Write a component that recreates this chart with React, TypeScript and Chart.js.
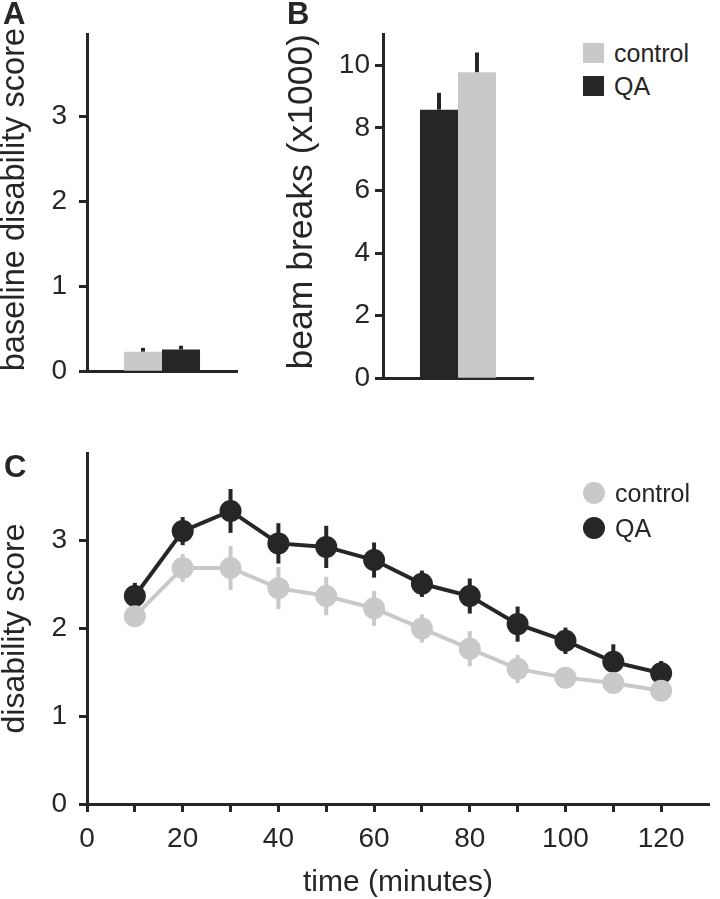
import React, { useEffect, useRef } from 'react';
import { Chart, registerables } from 'chart.js';

Chart.register(...registerables);

const DARK = '#262626';
const GRAY = '#c9c9c9';
const FONT = "'Liberation Sans', Arial, Helvetica, sans-serif";

// ---------- Panel A: baseline disability score ----------
const baselineCategories = [''];
const baselineControl = [0.23];
const baselineControlErr = [0.045];
const baselineQA = [0.255];
const baselineQAErr = [0.045];

// ---------- Panel B: beam breaks (x1000) ----------
const beamCategories = [''];
const beamQA = [8.58];
const beamQAErr = [0.54];
const beamControl = [9.78];
const beamControlErr = [0.63];

// ---------- Panel C: disability score over time ----------
const timeMinutes = [10, 20, 30, 40, 50, 60, 70, 80, 90, 100, 110, 120];
const controlScore = [2.14, 2.69, 2.69, 2.46, 2.37, 2.23, 2.0, 1.77, 1.54, 1.44, 1.38, 1.29];
const controlErr = [0.05, 0.16, 0.25, 0.24, 0.22, 0.2, 0.16, 0.2, 0.16, 0.1, 0.1, 0.08];
const qaScore = [2.37, 3.11, 3.34, 2.97, 2.93, 2.78, 2.51, 2.37, 2.05, 1.86, 1.62, 1.49];
const qaErr = [0.15, 0.16, 0.25, 0.23, 0.24, 0.2, 0.15, 0.2, 0.2, 0.15, 0.2, 0.14];

const legendLabels = ['control', 'QA'];

function errorBarPlugin(errs: number[][], both: boolean, colors: string[], width: number, before: boolean) {
  const draw = (chart: any) => {
    const ctx = chart.ctx;
    const yScale = chart.scales.y;
    chart.data.datasets.forEach((ds: any, di: number) => {
      const meta = chart.getDatasetMeta(di);
      const err = errs[di];
      meta.data.forEach((el: any, i: number) => {
        const raw = ds.data[i];
        const v = typeof raw === 'number' ? raw : raw.y;
        const top = yScale.getPixelForValue(v + err[i]);
        const bot = yScale.getPixelForValue(both ? v - err[i] : v);
        ctx.save();
        ctx.strokeStyle = colors[di];
        ctx.lineWidth = width;
        ctx.lineCap = 'butt';
        ctx.beginPath();
        ctx.moveTo(el.x, top);
        ctx.lineTo(el.x, bot);
        ctx.stroke();
        ctx.restore();
      });
    });
  };
  const p: any = { id: 'errorBars' };
  if (before) p.beforeDatasetsDraw = draw;
  else p.afterDatasetsDraw = draw;
  return p;
}

function ChartCanvas({ config, left, top, width, height }: any) {
  const ref = useRef<HTMLCanvasElement | null>(null);
  useEffect(() => {
    if (!ref.current) return;
    const chart = new Chart(ref.current, config);
    return () => chart.destroy();
  }, []);
  return (
    <canvas
      ref={ref}
      width={width}
      height={height}
      style={{ position: 'absolute', left, top, width, height }}
    />
  );
}

const TICK_SIZE = 28;

const yTickCommon = (pad: number) => ({
  color: DARK,
  padding: pad,
  font: { size: TICK_SIZE, family: FONT },
});
const gridTicks = {
  display: true,
  drawOnChartArea: false,
  drawTicks: true,
  tickLength: 8,
  tickWidth: 3,
  tickColor: DARK,
};
const borderStyle = { display: true, color: DARK, width: 3 };

const configA: any = {
  type: 'bar',
  data: {
    labels: baselineCategories,
    datasets: [
      { label: legendLabels[0], data: baselineControl, backgroundColor: GRAY, borderWidth: 0 },
      { label: legendLabels[1], data: baselineQA, backgroundColor: DARK, borderWidth: 0 },
    ],
  },
  options: {
    animation: false,
    responsive: false,
    maintainAspectRatio: false,
    layout: { padding: { top: 34, right: 23, bottom: 0, left: 0 } },
    plugins: { legend: { display: false }, tooltip: { enabled: false } },
    datasets: { bar: { categoryPercentage: 0.507, barPercentage: 1 } },
    scales: {
      x: {
        z: 1,
        ticks: { display: false },
        grid: { display: false },
        border: borderStyle,
        afterFit: (s: any) => { s.height = 17; },
      },
      y: {
        min: 0,
        max: 3.97,
        ticks: { ...yTickCommon(12), stepSize: 1, includeBounds: false },
        grid: gridTicks,
        border: borderStyle,
        title: {
          display: true,
          text: 'baseline disability score',
          color: DARK,
          align: 'start',
          font: { size: 32.5, family: FONT, lineHeight: 1 },
          padding: { top: -1, bottom: 0 },
        },
        afterFit: (s: any) => { s.width = 87; },
      },
    },
  },
  plugins: [errorBarPlugin([baselineControlErr, baselineQAErr], false, [DARK, DARK], 4, false)],
};

const configB: any = {
  type: 'bar',
  data: {
    labels: beamCategories,
    datasets: [
      { label: legendLabels[1], data: beamQA, backgroundColor: DARK, borderWidth: 0 },
      { label: legendLabels[0], data: beamControl, backgroundColor: GRAY, borderWidth: 0 },
    ],
  },
  options: {
    animation: false,
    responsive: false,
    maintainAspectRatio: false,
    layout: { padding: { top: 34, right: 27, bottom: 0, left: 0 } },
    plugins: { legend: { display: false }, tooltip: { enabled: false } },
    datasets: { bar: { categoryPercentage: 0.507, barPercentage: 1 } },
    scales: {
      x: {
        z: 1,
        ticks: { display: false },
        grid: { display: false },
        border: borderStyle,
        afterFit: (s: any) => { s.height = 17; },
      },
      y: {
        min: 0,
        max: 11,
        ticks: { ...yTickCommon(5), stepSize: 2, includeBounds: false },
        grid: gridTicks,
        border: borderStyle,
        title: {
          display: true,
          text: 'beam breaks (x1000)',
          color: DARK,
          align: 'end',
          font: { size: 35.5, family: FONT, lineHeight: 1 },
          padding: { top: 0, bottom: 0 },
        },
        afterFit: (s: any) => { s.width = 99; },
      },
    },
  },
  plugins: [errorBarPlugin([beamQAErr, beamControlErr], false, [DARK, DARK], 4, false)],
};

const configC: any = {
  type: 'line',
  data: {
    datasets: [
      {
        label: legendLabels[0],
        data: timeMinutes.map((t, i) => ({ x: t, y: controlScore[i] })),
        borderColor: GRAY,
        backgroundColor: GRAY,
        pointBackgroundColor: GRAY,
        pointBorderWidth: 0,
        pointRadius: 11,
        borderWidth: 4,
        tension: 0,
      },
      {
        label: legendLabels[1],
        data: timeMinutes.map((t, i) => ({ x: t, y: qaScore[i] })),
        borderColor: DARK,
        backgroundColor: DARK,
        pointBackgroundColor: DARK,
        pointBorderWidth: 0,
        pointRadius: 11,
        borderWidth: 4,
        tension: 0,
      },
    ],
  },
  options: {
    animation: false,
    responsive: false,
    maintainAspectRatio: false,
    layout: { padding: { top: 53, right: 0, bottom: 0, left: 0 } },
    plugins: { legend: { display: false }, tooltip: { enabled: false } },
    scales: {
      x: {
        type: 'linear',
        min: 0,
        max: 130,
        ticks: {
          color: DARK,
          padding: 10,
          font: { size: TICK_SIZE, family: FONT },
          stepSize: 10,
          autoSkip: false,
          maxRotation: 0,
          includeBounds: false,
          callback: (v: any) => (Number(v) % 20 === 0 ? String(v) : ''),
        },
        afterBuildTicks: (s: any) => { s.ticks = s.ticks.filter((t: any) => t.value <= 120); },
        grid: gridTicks,
        border: borderStyle,
        title: {
          display: true,
          text: 'time (minutes)',
          color: DARK,
          font: { size: 30, family: FONT, lineHeight: 1 },
          padding: { top: 0, bottom: 1 },
        },
        afterFit: (s: any) => { s.height = 95; },
      },
      y: {
        min: 0,
        max: 4,
        ticks: { ...yTickCommon(12), stepSize: 1 },
        afterBuildTicks: (s: any) => { s.ticks = s.ticks.filter((t: any) => t.value <= 3); },
        grid: gridTicks,
        border: borderStyle,
        title: {
          display: true,
          text: 'disability score',
          color: DARK,
          font: { size: 32, family: FONT, lineHeight: 1 },
          padding: { top: -1, bottom: 0 },
        },
        afterFit: (s: any) => { s.width = 87; },
      },
    },
  },
  plugins: [errorBarPlugin([controlErr, qaErr], true, [GRAY, DARK], 4, true)],
};

const letterStyle: any = {
  position: 'absolute',
  fontFamily: FONT,
  fontWeight: 'bold',
  fontSize: 31,
  lineHeight: 1,
  color: DARK,
};

function LegendRow({ left, top, color, shape, label }: any) {
  return (
    <div
      style={{
        position: 'absolute',
        left,
        top,
        height: 22,
        display: 'flex',
        alignItems: 'center',
        fontFamily: FONT,
        fontSize: 25,
        lineHeight: 1,
        color: DARK,
        whiteSpace: 'nowrap',
      }}
    >
      <span
        style={{
          display: 'inline-block',
          width: shape === 'circle' ? 22 : 21,
          height: shape === 'circle' ? 22 : 20,
          borderRadius: shape === 'circle' ? '50%' : 0,
          background: color,
          marginRight: 10,
        }}
      />
      <span>{label}</span>
    </div>
  );
}

export default function App() {
  return (
    <div
      style={{
        position: 'absolute',
        left: 0,
        top: 0,
        width: 720,
        height: 899,
        background: '#ffffff',
        overflow: 'hidden',
      }}
    >
      <ChartCanvas config={configA} left={0} top={0} width={260} height={400} />
      <ChartCanvas config={configB} left={284} top={0} width={276} height={400} />
      <ChartCanvas config={configC} left={0} top={400} width={720} height={499} />

      <div style={{ ...letterStyle, left: 3, top: -2 }}>A</div>
      <div style={{ ...letterStyle, left: 287, top: -2 }}>B</div>
      <div style={{ ...letterStyle, left: 4, top: 451 }}>C</div>

      <LegendRow left={583} top={42} color={GRAY} shape="square" label={legendLabels[0]} />
      <LegendRow left={583} top={75} color={DARK} shape="square" label={legendLabels[1]} />

      <LegendRow left={583} top={482} color={GRAY} shape="circle" label={legendLabels[0]} />
      <LegendRow left={583} top={517} color={DARK} shape="circle" label={legendLabels[1]} />
    </div>
  );
}
